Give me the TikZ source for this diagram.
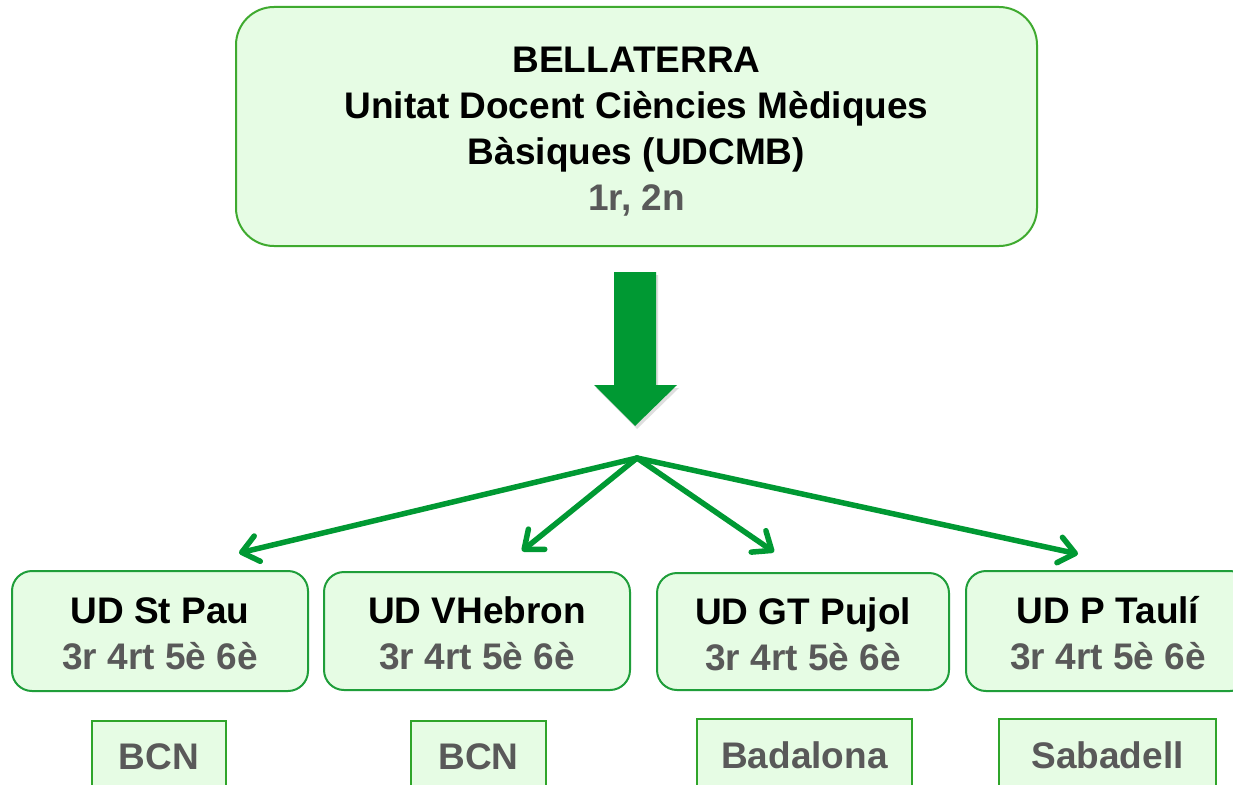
\documentclass[tikz,border=0pt]{standalone}
\usepackage{fontspec}
\setmainfont{Liberation Sans}
\usetikzlibrary{arrows.meta}
\definecolor{boxfill}{HTML}{E6FCE4}
\definecolor{topline}{HTML}{3FAA2F}
\definecolor{boxline}{HTML}{1F9E3A}
\definecolor{smallline}{HTML}{2FA52A}
\definecolor{arrowgreen}{HTML}{009933}
\definecolor{txtgray}{HTML}{595959}
\tikzset{
  topbox/.style={draw=topline, line width=2pt, fill=boxfill, rounded corners=38pt,
    align=center, font=\bfseries\fontsize{37}{46}\selectfont, inner sep=0pt},
  udbox/.style={draw=boxline, line width=2pt, fill=boxfill, rounded corners=20pt,
    align=center, font=\bfseries\fontsize{37}{46}\selectfont, inner sep=0pt},
  citybox/.style={draw=smallline, line width=2pt, fill=boxfill,
    align=center, font=\bfseries\fontsize{37}{46}\selectfont, text=txtgray, inner sep=0pt},
  fanarrow/.style={draw=arrowgreen, line width=5.5pt, line cap=round,
    -{Straight Barb[length=16pt, width=26pt, line cap=round, line join=round]}}
}
\begin{document}
\begin{tikzpicture}[x=1pt, y=-1pt]
\useasboundingbox (0,0) rectangle (1233,784);
\clip (0,0) rectangle (1233,784);
\fill[white] (0,0) rectangle (1233,784);

% top box
\node[topbox, minimum width=801pt, minimum height=239pt] (top) at (636.5,126.5)
  {\rule{0pt}{35pt}BELLATERRA\\Unitat Docent Ciències Mèdiques\\Bàsiques (UDCMB)\\\textcolor{txtgray}{1r, 2n}};

% big arrow
\fill[black!25, opacity=0.5] (616,275) -- (658,275) -- (658,388) -- (679,388) -- (637,429) -- (596,388) -- (616,388) -- cycle;
\fill[arrowgreen] (614,272) -- (656,272) -- (656,385) -- (677,385) -- (635,426) -- (594,385) -- (614,385) -- cycle;

% UD boxes
\node[udbox, minimum width=296pt, minimum height=120pt] (ud1) at (160,631)
  {\rule{0pt}{32pt}UD St Pau\\\textcolor{txtgray}{3r 4rt 5è 6è}};
\node[udbox, minimum width=306pt, minimum height=118pt] (ud2) at (477,631)
  {\rule{0pt}{32pt}UD VHebron\\\textcolor{txtgray}{3r 4rt 5è 6è}};
\node[udbox, minimum width=292pt, minimum height=117pt] (ud3) at (803,631.5)
  {\rule{0pt}{32pt}UD GT Pujol\\\textcolor{txtgray}{3r 4rt 5è 6è}};
\node[udbox, minimum width=284pt, minimum height=120pt] (ud4) at (1108,631)
  {\rule{0pt}{32pt}UD P Taulí\\\textcolor{txtgray}{3r 4rt 5è 6è}};

% city boxes
\node[citybox, minimum width=134pt, minimum height=68pt] (c1) at (159,755) {\rule{0pt}{30pt}BCN};
\node[citybox, minimum width=135pt, minimum height=68pt] (c2) at (478.5,755) {\rule{0pt}{30pt}BCN};
\node[citybox, minimum width=215pt, minimum height=70pt] (c3) at (804.5,754) {\rule{0pt}{30pt}Badalona};
\node[citybox, minimum width=217pt, minimum height=70pt] (c4) at (1107.5,754) {\rule{0pt}{30pt}Sabadell};

% fan arrows
\coordinate (fan) at (637,458);
\coordinate (t1) at (239,553);
\coordinate (t2) at (522,551);
\coordinate (t3) at (774,552);
\coordinate (t4) at (1078,554);
\draw[fanarrow] (fan) -- (t1);
\draw[fanarrow] (fan) -- (t2);
\draw[fanarrow] (fan) -- (t3);
\draw[fanarrow] (fan) -- (t4);
\end{tikzpicture}
\end{document}
